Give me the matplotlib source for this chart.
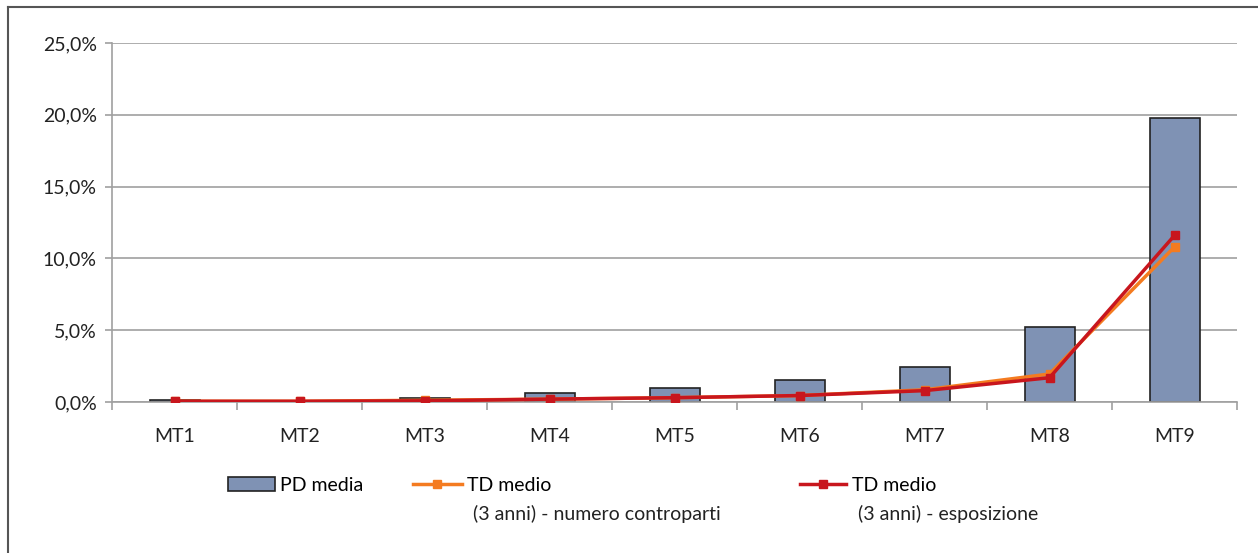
import numpy as np
import matplotlib
matplotlib.use('Agg')
from matplotlib import pyplot as plt
from matplotlib.ticker import FuncFormatter, FixedLocator
from matplotlib.lines import Line2D

plt.rcParams['font.family'] = ['Lato', 'DejaVu Sans']

# data (percent)
classes = ['MT1', 'MT2', 'MT3', 'MT4', 'MT5', 'MT6', 'MT7', 'MT8', 'MT9']
pd_media = [0.15, 0.05, 0.3, 0.6, 0.95, 1.55, 2.42, 5.25, 19.8]
td_numero = [0.05, 0.05, 0.12, 0.2, 0.3, 0.45, 0.85, 1.95, 10.8]
td_esposizione = [0.05, 0.05, 0.08, 0.2, 0.3, 0.45, 0.79, 1.69, 11.6]
labels1 = ['PD media', 'TD medio', 'TD medio']
labels2 = ['', '(3 anni) - numero controparti', '(3 anni) - esposizione']

W, H = 1258, 553
fig = plt.figure(figsize=(W / 100, H / 100), dpi=100)
ax = fig.add_axes([112 / W, 1 - 402 / H, (1237 - 112) / W, (402 - 43) / H])

x = np.arange(len(classes))
bars = ax.bar(x, pd_media, width=0.4, color='#7F92B4', edgecolor='#222222', linewidth=1.2,
              zorder=2)
l1, = ax.plot(x, td_numero, color='#F47B20', linewidth=2.5, marker='s', markersize=6, zorder=3)
l2, = ax.plot(x, td_esposizione, color='#C8161D', linewidth=2.5, marker='s', markersize=6,
              zorder=4)

ax.set_xlim(-0.5, len(classes) - 0.5)
ax.set_ylim(0, 25)
ax.set_yticks(np.arange(0, 26, 5))
ax.yaxis.set_major_formatter(FuncFormatter(lambda v, p: ('%.1f%%' % v).replace('.', ',')))
ax.set_xticks(x)
ax.set_xticklabels(classes)
ax.tick_params(axis='x', length=0, pad=19, labelsize=14, labelcolor='#222222')
ax.xaxis.set_minor_locator(FixedLocator(np.arange(-0.5, len(classes), 1)))
ax.tick_params(axis='x', which='minor', length=6, color='#A0A0A0', width=1.2)
ax.tick_params(axis='y', length=5, color='#A0A0A0', width=1.2, labelsize=14, pad=6,
               labelcolor='#222222')

ax.grid(axis='y', color='#A0A0A0', linewidth=1.2, zorder=0)
ax.set_axisbelow(True)
for s in ['top', 'right']:
    ax.spines[s].set_visible(False)
for s in ['left', 'bottom']:
    ax.spines[s].set_color('#A0A0A0')
    ax.spines[s].set_linewidth(1.2)

# legend: one entry per legend so each can sit where the reference has it
h1 = Line2D([], [], color='#F47B20', linewidth=2.5, marker='s', markersize=6)
h2 = Line2D([], [], color='#C8161D', linewidth=2.5, marker='s', markersize=6)
handles = [bars, h1, h2]
leg_x = [228, 413, 800]
hlen = [2.4, 2.5, 2.35]
legs = []
for h, lab, lx, hl in zip(handles, labels1, leg_x, hlen):
    lg = fig.legend([h], [lab], loc='upper left', bbox_to_anchor=(lx / W, 1 - 477 / H),
                    frameon=False, fontsize=14, handlelength=hl, handletextpad=0.3,
                    borderaxespad=0, borderpad=0)
    legs.append(lg)

# second line of the TD labels
fig.canvas.draw()
r = fig.canvas.get_renderer()
for lg, s in zip(legs, labels2):
    if not s:
        continue
    bb = lg.get_texts()[0].get_window_extent(r)
    fig.text((bb.x0 + 6) / W, (bb.y0 - 29) / H, s, fontsize=14, color='#222222',
             va='bottom', ha='left')

# frame lines (top and left) of the chart area
fig.add_artist(Line2D([8 / W, 1], [1 - 7 / H, 1 - 7 / H], color='#555555', linewidth=1.5))
fig.add_artist(Line2D([8 / W, 8 / W], [0, 1 - 7 / H], color='#555555', linewidth=1.5))

fig.savefig('out.png', dpi=100)
